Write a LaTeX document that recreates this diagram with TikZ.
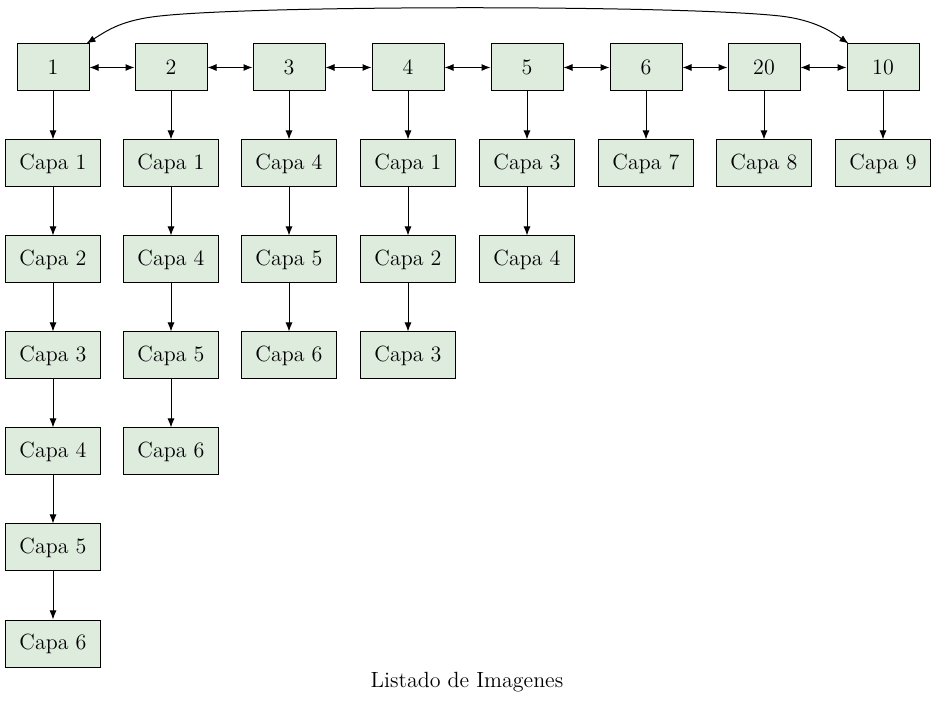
\documentclass[tikz,border=0pt]{standalone}
\usetikzlibrary{arrows.meta}
\definecolor{boxgreen}{RGB}{222,236,222}
\begin{document}
\begin{tikzpicture}[x=0.5pt,y=-0.5pt,
  font=\fontsize{11}{13}\selectfont,
  every path/.style={line width=0.5pt},
  top/.style={draw, fill=boxgreen, minimum width=36pt, minimum height=23.5pt, inner sep=0pt},
  capa/.style={draw, fill=boxgreen, minimum width=47.5pt, minimum height=23.5pt, inner sep=0pt},
  arr/.style={-{Latex[length=4.5pt,width=3.5pt]}},
  barr/.style={{Latex[length=4.5pt,width=3.5pt]}-{Latex[length=4.5pt,width=3.5pt]}}]
\useasboundingbox (0,0) rectangle (936,704);
% top row
\node[top] (t1) at (53,67.5) {1};
\node[top] (t2) at (171,67.5) {2};
\node[top] (t3) at (289,67.5) {3};
\node[top] (t4) at (408,67.5) {4};
\node[top] (t5) at (527,67.5) {5};
\node[top] (t6) at (646,67.5) {6};
\node[top] (t20) at (764,67.5) {20};
\node[top] (t10) at (883,67.5) {10};
% column 1
\node[capa] (a1) at (53,163.5) {Capa 1};
\node[capa] (a2) at (53,259.5) {Capa 2};
\node[capa] (a3) at (53,355.5) {Capa 3};
\node[capa] (a4) at (53,451.5) {Capa 4};
\node[capa] (a5) at (53,547.5) {Capa 5};
\node[capa] (a6) at (53,643.5) {Capa 6};
% column 2
\node[capa] (b1) at (171,163.5) {Capa 1};
\node[capa] (b2) at (171,259.5) {Capa 4};
\node[capa] (b3) at (171,355.5) {Capa 5};
\node[capa] (b4) at (171,451.5) {Capa 6};
% column 3
\node[capa] (c1) at (289,163.5) {Capa 4};
\node[capa] (c2) at (289,259.5) {Capa 5};
\node[capa] (c3) at (289,355.5) {Capa 6};
% column 4
\node[capa] (d1) at (408,163.5) {Capa 1};
\node[capa] (d2) at (408,259.5) {Capa 2};
\node[capa] (d3) at (408,355.5) {Capa 3};
% column 5
\node[capa] (e1) at (527,163.5) {Capa 3};
\node[capa] (e2) at (527,259.5) {Capa 4};
% others
\node[capa] (f1) at (646,163.5) {Capa 7};
\node[capa] (g1) at (764,163.5) {Capa 8};
\node[capa] (h1) at (883,163.5) {Capa 9};
% label
\node (lbl) at (467,682) {Listado de Imagenes};
% horizontal bidirectional
\draw[barr] (t1) -- (t2);
\draw[barr] (t2) -- (t3);
\draw[barr] (t3) -- (t4);
\draw[barr] (t4) -- (t5);
\draw[barr] (t5) -- (t6);
\draw[barr] (t6) -- (t20);
\draw[barr] (t20) -- (t10);
% verticals
\draw[arr] (t1) -- (a1);
\draw[arr] (a1) -- (a2);
\draw[arr] (a2) -- (a3);
\draw[arr] (a3) -- (a4);
\draw[arr] (a4) -- (a5);
\draw[arr] (a5) -- (a6);
\draw[arr] (t2) -- (b1);
\draw[arr] (b1) -- (b2);
\draw[arr] (b2) -- (b3);
\draw[arr] (b3) -- (b4);
\draw[arr] (t3) -- (c1);
\draw[arr] (c1) -- (c2);
\draw[arr] (c2) -- (c3);
\draw[arr] (t4) -- (d1);
\draw[arr] (d1) -- (d2);
\draw[arr] (d2) -- (d3);
\draw[arr] (t5) -- (e1);
\draw[arr] (e1) -- (e2);
\draw[arr] (t6) -- (f1);
\draw[arr] (t20) -- (g1);
\draw[arr] (t10) -- (h1);
% top curve
\draw[barr] ([xshift=-1.5pt]t1.north east) .. controls (108,30) and (122,20) .. (160,16)
  .. controls (260,5) and (680,5) .. (780,16)
  .. controls (815,20) and (832,32) .. ([xshift=1pt]t10.north west);
\end{tikzpicture}
\end{document}
